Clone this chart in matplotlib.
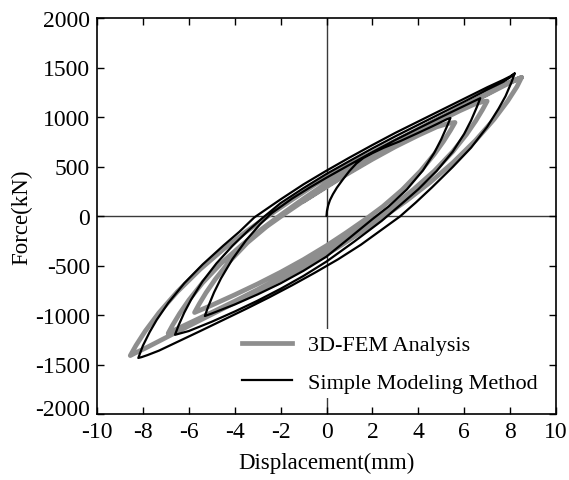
import matplotlib
matplotlib.use("Agg")
import matplotlib.pyplot as plt
from matplotlib.lines import Line2D
from matplotlib.transforms import ScaledTranslation

plt.rcParams["font.family"] = ["Liberation Serif", "DejaVu Serif"]

# ---- Simple Modeling Method (black) : hysteresis path, branch by branch ----
sm_init_x = [0.0, 0.02, 0.07, 0.15, 0.28, 0.45, 0.7, 1.0, 1.3, 1.6, 2.0, 2.5, 3.2, 4.0, 4.6, 5.0, 5.25, 5.4]
sm_init_f = [0, 50, 105, 160, 220, 285, 365, 455, 530, 585, 635, 690, 755, 840, 905, 950, 978, 990]

sm_e_x = [5.4, 5.25, 5.0, 4.7, 4.2, 3.5, 2.7, 2.0, 1.0, 0.0, -1.0, -2.0, -3.0, -4.0, -5.0, -5.3]
sm_e_f = [990, 905, 775, 640, 460, 268, 95, -32, -222, -410, -553, -680, -792, -894, -985, -1010]

sm_b_x = [-5.3, -5.15, -4.9, -4.6, -4.1, -3.5, -2.9, -2.4, -1.5, -0.7, 0.0, 1.0, 2.0, 3.0, 4.0, 5.0, 5.8, 6.3, 6.55, 6.7]
sm_b_f = [-1010, -912, -772, -631, -436, -244, -85, 27, 176, 292, 387, 517, 645, 768, 885, 1000, 1090, 1145, 1172, 1190]

sm_f_x = [6.7, 6.55, 6.3, 6.0, 5.5, 4.8, 4.0, 3.2, 2.4, 1.2, 0.0, -1.0, -2.0, -3.0, -4.0, -5.0, -6.0, -6.6]
sm_f_f = [1190, 1100, 965, 830, 650, 455, 270, 108, -50, -260, -460, -605, -735, -855, -965, -1068, -1162, -1200]

sm_c_x = [-6.6, -6.45, -6.2, -5.9, -5.4, -4.8, -4.1, -3.4, -2.8, -2.0, -1.0, 0.0, 1.0, 2.0, 3.0, 4.0, 5.0, 6.0, 7.0, 7.7, 8.0, 8.2]
sm_c_f = [-1200, -1107, -977, -845, -660, -480, -302, -145, -22, 130, 282, 425, 555, 683, 805, 922, 1038, 1155, 1275, 1355, 1400, 1440]

sm_g_x = [8.2, 8.05, 7.8, 7.5, 7.0, 6.3, 5.5, 4.6, 3.9, 3.2, 2.5, 1.5, 0.5, -0.5, -1.5, -2.5, -3.5, -4.5, -5.5, -6.5, -7.3, -7.8, -8.05, -8.2]
sm_g_f = [1440, 1345, 1210, 1085, 900, 690, 495, 290, 138, -5, -122, -290, -438, -572, -700, -822, -938, -1050, -1162, -1272, -1360, -1405, -1425, -1434]

sm_d_x = [-8.2, -8.0, -7.7, -7.4, -6.9, -6.2, -5.4, -4.5, -3.8, -3.15, -2.0, -1.0, 0.0, 1.0, 2.0, 3.0, 4.0, 5.0, 6.0, 7.0, 7.7, 8.0, 8.2]
sm_d_f = [-1434, -1310, -1170, -1050, -880, -680, -490, -300, -160, -15, 168, 320, 458, 590, 717, 840, 955, 1070, 1185, 1300, 1375, 1410, 1440]

# ---- 3D-FEM Analysis (grey) ----
fem_init_x = [-1.0, 0.0, 1.0, 2.0, 3.0, 4.0, 4.8, 5.3, 5.6]
fem_init_f = [150, 295, 438, 573, 700, 815, 900, 935, 945]

fem_e_x = [5.6, 5.4, 5.1, 4.7, 4.1, 3.3, 2.45, 1.75, 0.85, 0.0, -1.0, -2.0, -3.0, -4.0, -5.0, -5.5, -5.75]
fem_e_f = [945, 865, 755, 625, 455, 265, 95, -25, -170, -300, -440, -568, -686, -796, -901, -951, -975]

fem_b_x = [-5.75, -5.55, -5.25, -4.85, -4.25, -3.45, -2.6, -1.9, -1.0, 0.0, 1.0, 2.0, 3.0, 4.0, 5.0, 5.8, 6.4, 6.8, 7.0]
fem_b_f = [-975, -890, -775, -640, -465, -270, -105, 10, 152, 302, 447, 585, 717, 845, 970, 1062, 1125, 1155, 1160]

fem_f_x = [7.0, 6.8, 6.5, 6.1, 5.5, 4.7, 3.8, 2.9, 2.1, 1.0, 0.0, -1.0, -2.0, -3.0, -4.0, -5.0, -6.0, -6.5, -6.9]
fem_f_f = [1160, 1075, 960, 825, 650, 455, 270, 103, -25, -198, -345, -487, -619, -743, -861, -974, -1084, -1139, -1185]

fem_c_x = [-6.9, -6.7, -6.4, -6.0, -5.4, -4.6, -3.7, -2.8, -2.0, -1.0, 0.0, 1.0, 2.0, 3.0, 4.0, 5.0, 6.0, 7.0, 7.6, 8.0, 8.3, 8.5]
fem_c_f = [-1185, -1100, -985, -850, -675, -480, -295, -128, 10, 175, 333, 481, 619, 749, 873, 994, 1115, 1237, 1308, 1352, 1382, 1400]

fem_g_x = [8.5, 8.3, 7.9, 7.3, 6.5, 5.5, 4.5, 3.5, 2.5, 1.5, 0.5, -0.5, -1.5, -2.5, -3.5, -4.5, -5.5, -6.5, -7.3, -7.9, -8.3, -8.55]
fem_g_f = [1400, 1307, 1163, 977, 765, 537, 337, 157, -7, -165, -317, -456, -581, -701, -818, -934, -1051, -1169, -1265, -1336, -1380, -1410]

fem_d_x = [-8.55, -8.3, -7.9, -7.3, -6.5, -5.5, -4.5, -3.5, -2.5, -1.5, -0.5, 0.5, 1.5, 2.5, 3.5, 4.5, 5.5, 6.5, 7.3, 7.9, 8.3, 8.5]
fem_d_f = [-1410, -1307, -1163, -977, -765, -537, -337, -157, 7, 165, 317, 456, 581, 701, 818, 934, 1051, 1169, 1265, 1336, 1380, 1400]

x_ticks = [-10, -8, -6, -4, -2, 0, 2, 4, 6, 8, 10]
y_ticks = [-2000, -1500, -1000, -500, 0, 500, 1000, 1500, 2000]


def join(*branches):
    xs, fs = [], []
    for bx, bf in branches:
        xs.extend(bx)
        fs.extend(bf)
    return xs, fs


sm_x, sm_f = join((sm_init_x, sm_init_f), (sm_e_x, sm_e_f), (sm_b_x, sm_b_f),
                  (sm_f_x, sm_f_f), (sm_c_x, sm_c_f), (sm_g_x, sm_g_f),
                  (sm_d_x, sm_d_f))
fem_x, fem_f = join((fem_init_x, fem_init_f), (fem_e_x, fem_e_f), (fem_b_x, fem_b_f),
                    (fem_f_x, fem_f_f), (fem_c_x, fem_c_f), (fem_g_x, fem_g_f),
                    (fem_d_x, fem_d_f))

fig = plt.figure(figsize=(5.69, 4.81), dpi=100)
ax = fig.add_axes([97 / 569, 66 / 481, 459 / 569, 396 / 481])

grey = "#8e8e8e"
ax.axhline(0, color="#3a3a3a", lw=1.0, zorder=1)
ax.axvline(0, color="#3a3a3a", lw=1.0, zorder=1)

ax.plot(fem_x, fem_f, color=grey, lw=3.4, solid_joinstyle="round",
        solid_capstyle="round", zorder=2)
ax.plot(sm_x, sm_f, color="black", lw=1.6, solid_joinstyle="round",
        solid_capstyle="round", zorder=3)

ax.set_xlim(-10, 10)
ax.set_ylim(-2000, 2000)
ax.set_xticks(x_ticks)
ax.set_yticks(y_ticks)
ax.set_xticklabels([str(v) for v in x_ticks])
ax.set_yticklabels([str(v) for v in y_ticks])
ax.tick_params(direction="in", top=True, right=True, length=5, width=1,
               labelsize=17)
ax.tick_params(axis="x", pad=5)
ax.tick_params(axis="y", pad=5)
for s in ax.spines.values():
    s.set_linewidth(1.2)

# lift the lowest force label a little so it clears the "-10" below it
lowest = ax.get_yticklabels()[0]
lowest.set_transform(lowest.get_transform() + ScaledTranslation(0, 5 / 72, fig.dpi_scale_trans))

ax.set_xlabel("Displacement(mm)", fontsize=16.5, labelpad=7)
ax.set_ylabel("Force(kN)", fontsize=16.5, labelpad=2)

handles = [Line2D([], [], color=grey, lw=3.4),
           Line2D([], [], color="black", lw=1.6)]
leg = ax.legend(handles, ["3D-FEM Analysis", "Simple Modeling Method"],
                loc="lower right", bbox_to_anchor=(0.997, 0.012), fontsize=16,
                frameon=True, handlelength=2.25, handletextpad=0.75,
                labelspacing=0.75, borderpad=0.25)
leg.get_frame().set_edgecolor("none")
leg.get_frame().set_facecolor("white")
leg.get_frame().set_alpha(1.0)
leg.set_zorder(5)

fig.savefig("out.png", dpi=100)
